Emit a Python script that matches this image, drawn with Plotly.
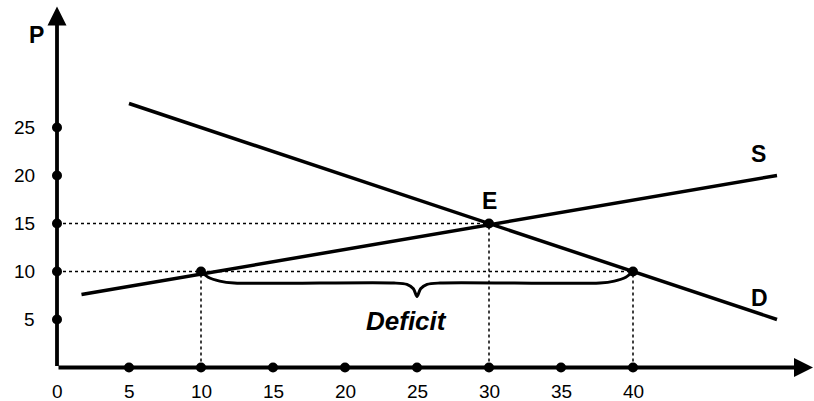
import plotly.graph_objects as go

# ---- data ----
x_ticks = [5, 10, 15, 20, 25, 30, 35, 40]
x_tick_labels = ["0", "5", "10", "15", "20", "25", "30", "35", "40"]
x_label_vals = [0, 5, 10, 15, 20, 25, 30, 35, 40]
y_ticks = [5, 10, 15, 20, 25]
y_tick_labels = ["5", "10", "15", "20", "25"]

supply_q = [1.7, 50]
supply_p = [7.6, 20]
demand_q = [5, 50]
demand_p = [27.5, 5]

eq_q, eq_p = 30, 15          # equilibrium E
ceiling_p = 10               # price below equilibrium
qs_at_ceiling = 10           # quantity supplied
qd_at_ceiling = 40           # quantity demanded

FONT = "Arial, Liberation Sans, sans-serif"

fig = go.Figure()

# dotted guide lines
guides = [
    ([0, eq_q], [eq_p, eq_p]),
    ([0, qd_at_ceiling], [ceiling_p, ceiling_p]),
    ([qs_at_ceiling, qs_at_ceiling], [0, ceiling_p]),
    ([eq_q, eq_q], [0, eq_p]),
    ([qd_at_ceiling, qd_at_ceiling], [0, ceiling_p]),
]
for gx, gy in guides:
    fig.add_trace(go.Scatter(x=gx, y=gy, mode="lines",
                             line=dict(color="black", width=1.5, dash="dot"),
                             hoverinfo="skip", showlegend=False))

# supply & demand
fig.add_trace(go.Scatter(x=supply_q, y=supply_p, mode="lines",
                         line=dict(color="black", width=3.5), showlegend=False))
fig.add_trace(go.Scatter(x=demand_q, y=demand_p, mode="lines",
                         line=dict(color="black", width=3.5), showlegend=False))

# brace under the deficit
a, b = qs_at_ceiling, qd_at_ceiling
mid = (a + b) / 2
yb = ceiling_p
brace_x = [a, a + 0.5, a + 1.3, a + 2.3, mid - 1.6, mid - 0.7, mid - 0.25, mid,
           mid + 0.25, mid + 0.7, mid + 1.6, b - 2.3, b - 1.3, b - 0.5, b]
brace_y = [yb, yb - 0.6, yb - 1.0, yb - 1.2, yb - 1.2, yb - 1.35, yb - 1.8, yb - 2.6,
           yb - 1.8, yb - 1.35, yb - 1.2, yb - 1.2, yb - 1.0, yb - 0.6, yb]
fig.add_trace(go.Scatter(x=brace_x, y=brace_y, mode="lines",
                         line=dict(color="black", width=3, shape="spline", smoothing=0.8),
                         hoverinfo="skip", showlegend=False))

# axes lines with arrowheads
fig.add_annotation(x=52.5, y=0, ax=0, ay=0, xref="x", yref="y", axref="x", ayref="y",
                   text="", showarrow=True, arrowhead=2, arrowsize=1, arrowwidth=3.8,
                   arrowcolor="black", standoff=0)
fig.add_annotation(x=0, y=37.6, ax=0, ay=0, xref="x", yref="y", axref="x", ayref="y",
                   text="", showarrow=True, arrowhead=2, arrowsize=1, arrowwidth=3.8,
                   arrowcolor="black", standoff=0)

# tick dots
fig.add_trace(go.Scatter(x=x_ticks, y=[0] * len(x_ticks), mode="markers",
                         marker=dict(color="black", size=10), showlegend=False))
fig.add_trace(go.Scatter(x=[0] * len(y_ticks), y=y_ticks, mode="markers",
                         marker=dict(color="black", size=10), showlegend=False))
# key points
fig.add_trace(go.Scatter(x=[qs_at_ceiling, eq_q, qd_at_ceiling],
                         y=[ceiling_p, eq_p, ceiling_p], mode="markers",
                         marker=dict(color="black", size=10), showlegend=False))

# tick labels
for v, t in zip(x_label_vals, x_tick_labels):
    fig.add_annotation(x=v, y=0, text=t, showarrow=False, xanchor="center",
                       yanchor="middle", yshift=-24,
                       font=dict(family=FONT, size=19, color="black"))
for v, t in zip(y_ticks, y_tick_labels):
    fig.add_annotation(x=0, y=v, text=t, showarrow=False, xanchor="right",
                       yanchor="middle", xshift=-20,
                       font=dict(family=FONT, size=19, color="black"))

# labels
bold = dict(family=FONT, size=23, color="black")
fig.add_annotation(x=-1.4, y=34.6, text="<b>P</b>", showarrow=False, font=bold)
fig.add_annotation(x=eq_q, y=17.3, text="<b>E</b>", showarrow=False, font=bold)
fig.add_annotation(x=48.7, y=22.2, text="<b>S</b>", showarrow=False, font=bold)
fig.add_annotation(x=48.75, y=7.25, text="<b>D</b>", showarrow=False, font=bold)
fig.add_annotation(x=24.3, y=4.85, text="<b><i>Deficit</i></b>", showarrow=False,
                   font=dict(family=FONT, size=26, color="black"))

fig.update_xaxes(range=[-57 / 14.4, (814 - 57) / 14.4], visible=False, fixedrange=True)
fig.update_yaxes(range=[(367.5 - 401) / 9.6, 367.5 / 9.6], visible=False, fixedrange=True)
fig.update_layout(width=814, height=401, margin=dict(l=0, r=0, t=0, b=0),
                  plot_bgcolor="white", paper_bgcolor="white", showlegend=False)

fig.write_html(
    "out.html",
    config={"displayModeBar": False},
    post_script="document.body.style.margin='0';document.body.style.padding='0';"
                "document.body.style.overflow='hidden';",
)
